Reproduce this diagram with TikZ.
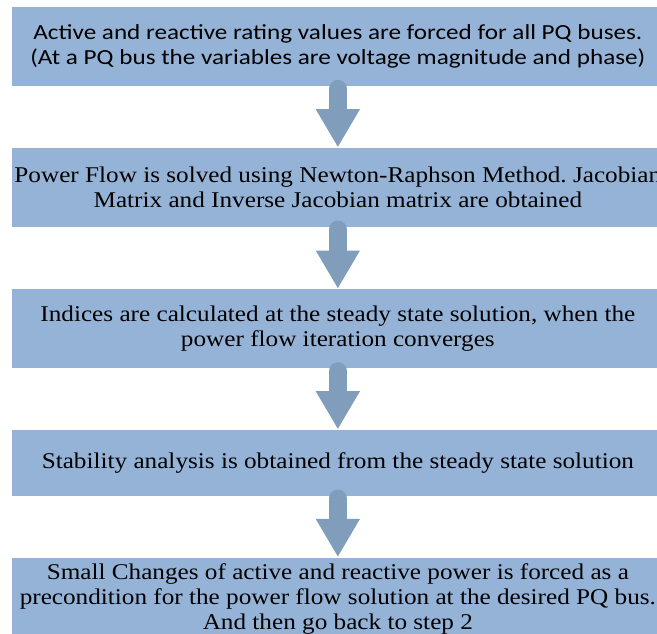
\documentclass[tikz,border=0pt]{standalone}
\usepackage{fontspec}
\setmainfont{Liberation Serif}[FakeStretch=1.12]
\newfontfamily\boxsans{Carlito}[FakeStretch=1.17]
\usetikzlibrary{arrows.meta}
\definecolor{boxfill}{RGB}{149,179,215}
\definecolor{arrowfill}{RGB}{128,158,187}
\frenchspacing

\begin{document}
\begin{tikzpicture}[x=1pt,y=-1pt,
  stepbox/.style={fill=boxfill, inner sep=0pt, minimum width=652.3pt,
    align=center, text=black, font=\fontsize{22.5}{25}\selectfont},
  flow/.style={draw=arrowfill, line width=17.7pt, line cap=round,
    -{Triangle[width=44.3pt,length=37.6pt,line width=0pt]}}]
\useasboundingbox (0,0) rectangle (657,634);
\clip (0,0) rectangle (657,634);

% process steps
\node[stepbox, minimum height=78.7pt, font=\boxsans\fontsize{21.5}{25}\selectfont] (s1) at (337.85,46.65)
  {Active and reactive rating values are forced for all PQ buses.\\(At a PQ bus the variables are voltage magnitude and phase)};
\node[stepbox, minimum height=78.7pt] (s2) at (337.85,187.35)
  {Power Flow is solved using Newton-Raphson Method. Jacobian\\Matrix and Inverse Jacobian matrix are obtained};
\node[stepbox, minimum height=79pt] (s3) at (337.85,328.8)
  {Indices are calculated at the steady state solution, when the\\power flow iteration converges};
\node[stepbox, minimum height=65.7pt] (s4) at (337.85,462.85)
  {Stability analysis is obtained from the steady state solution};
\node[stepbox, minimum height=82.3pt] (s5) at (337.85,598.85)
  {Small Changes of active and reactive power is forced as a\\precondition for the power flow solution at the desired PQ bus.\\And then go back to step 2};

% block arrows between steps
\draw[flow] ([yshift=-2.5pt]s1.south) -- ([yshift=1pt]s2.north);
\draw[flow] ([yshift=-2.5pt]s2.south) -- ([yshift=1pt]s3.north);
\draw[flow] ([yshift=-2.5pt]s3.south) -- ([yshift=1pt]s4.north);
\draw[flow] ([yshift=-2.5pt]s4.south) -- ([yshift=1pt]s5.north);
\end{tikzpicture}
\end{document}
